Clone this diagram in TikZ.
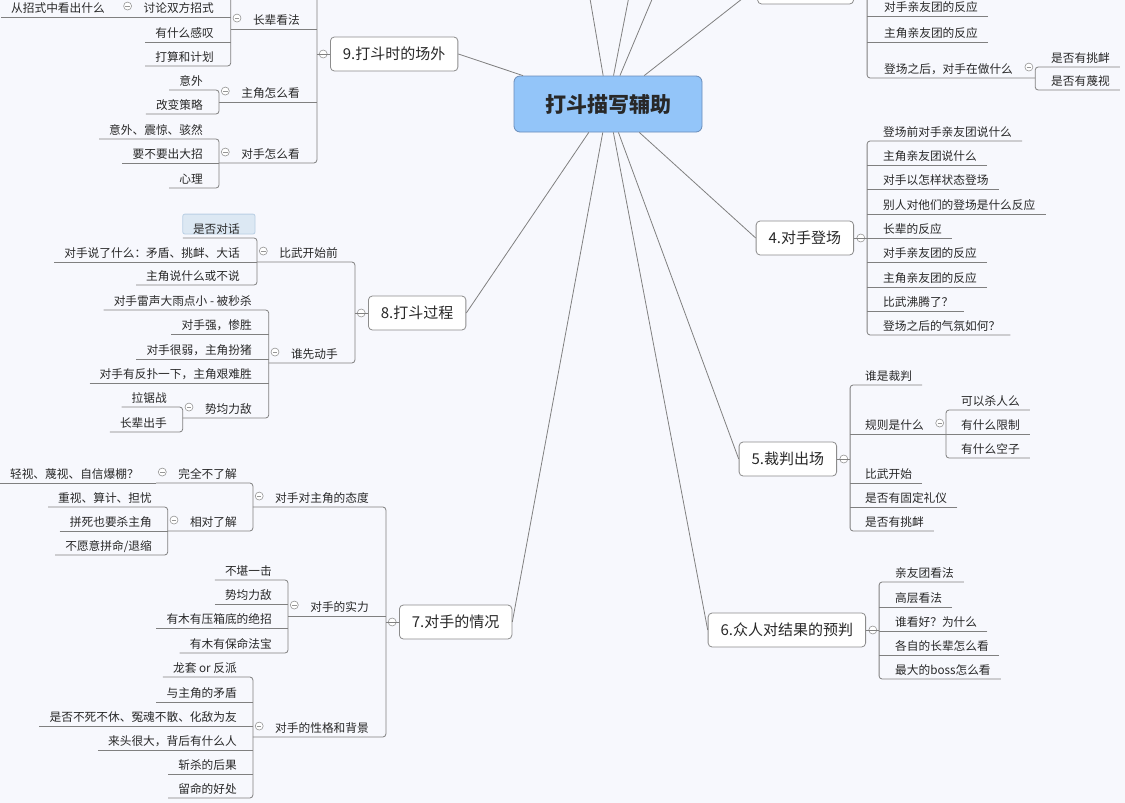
\documentclass[tikz,border=0pt]{standalone}
\usepackage{fontspec}
\setmainfont{Noto Sans CJK SC}
\usetikzlibrary{positioning,backgrounds}

\definecolor{bgc}{RGB}{247,248,253}
\definecolor{linec}{RGB}{128,128,128}
\definecolor{boxc}{RGB}{140,140,140}
\definecolor{txt}{RGB}{40,40,40}
\definecolor{rootc}{RGB}{147,197,249}
\definecolor{rootline}{RGB}{105,140,185}
\definecolor{foldc}{RGB}{150,150,150}
\definecolor{selc}{RGB}{220,232,243}
\definecolor{selline}{RGB}{185,207,228}

\newcommand{\leaffont}{\fontsize{11.7pt}{14pt}\selectfont}
\newcommand{\topicfont}{\fontsize{15pt}{18pt}\selectfont}
\newcommand{\rootfont}{\fontsize{21pt}{24pt}\selectfont\bfseries}

\begin{document}
\begin{tikzpicture}[x=1pt, y=-1pt,
	link/.style={draw=linec, line width=0.8pt, rounded corners=3pt},
	leaf/.style={font=\leaffont, text=txt, inner xsep=10pt, inner ysep=2.5pt, text height=9pt, text depth=1.5pt},
	ll/.style={leaf, anchor=south east},
	lr/.style={leaf, anchor=south west},
	topic/.style={rectangle, draw=boxc, line width=0.8pt, fill=white, rounded corners=4pt, font=\topicfont, text=txt, minimum height=34pt, inner xsep=12.5pt},
	root/.style={rectangle, rounded corners=6pt, draw=rootline, line width=0.8pt, fill=rootc, minimum width=188pt, minimum height=56pt, font=\rootfont, text=txt},
	fold/.style={circle, draw=foldc, fill=white, line width=0.6pt, minimum size=8pt, inner sep=0pt,
		path picture={\draw[foldc, line width=0.6pt] ([xshift=-2.2pt]path picture bounding box.center) -- ([xshift=2.2pt]path picture bounding box.center);}},
	selbox/.style={rounded corners=2pt, fill=selc, draw=selline, line width=0.8pt}
]
\useasboundingbox (0,0) rectangle (1125,803);

% centre and main topics
\node[root] (root) at (608,104) {打斗描写辅助};
\node[topic, anchor=west] (t9) at (330,54) {9.打斗时的场外};
\node[topic, anchor=west] (t8) at (368,313) {8.打斗过程};
\node[topic, anchor=west] (t7) at (399,622) {7.对手的情况};
\node[topic, anchor=east, minimum width=96pt] (t3) at (854,-13) {};
\node[topic, anchor=east] (t4) at (854,238) {4.对手登场};
\node[topic, anchor=east] (t5) at (837,459) {5.裁判出场};
\node[topic, anchor=east] (t6) at (866,630) {6.众人对结果的预判};
\coordinate (t10) at (580,-60);
\coordinate (t1) at (640,-60);
\coordinate (t2) at (677,-60);
\foreach \tp in {t10,t1,t2,t3.west,t4.west,t5.west,t6.west,t7.east,t8.east,t9.east}
	\draw[link] (root) -- (\tp);

% 9
\node[ll] (p9a) at (310,29) {长辈看法};
\node[ll] (p9a1) at (224,17) {讨论双方招式};
\node[ll] (l9a11) at (115,17) {从招式中看出什么};
\node[ll] (l9a2) at (224,42) {有什么感叹};
\node[ll] (l9a3) at (224,66) {打算和计划};
\node[ll] (p9b) at (310,102) {主角怎么看};
\node[ll] (l9b1) at (213,90) {意外};
\node[ll] (l9b2) at (213,114) {改变策略};
\node[ll] (p9c) at (310,163) {对手怎么看};
\node[ll] (l9c1) at (213,139) {意外、震惊、骇然};
\node[ll] (l9c2) at (213,163) {要不要出大招};
\node[ll] (l9c3) at (213,188) {心理};
\coordinate (h9) at (310,-12);
\coordinate (h9a) at (224,-12);

% 8
\node[ll] (p8a) at (348,262) {比武开始前};
\node[ll] (l8a1) at (250,238) {是否对话};
\node[ll] (l8a2) at (250,262) {对手说了什么：矛盾、挑衅、大话};
\node[ll] (l8a3) at (250,285) {主角说什么或不说};
\node[ll] (p8b) at (348,363) {谁先动手};
\node[ll] (l8b1) at (262,310) {对手雷声大雨点小 - 被秒杀};
\node[ll] (l8b2) at (262,334) {对手强，惨胜};
\node[ll] (l8b3) at (262,359) {对手很弱，主角扮猪};
\node[ll] (l8b4) at (262,383) {对手有反扑一下，主角艰难胜};
\node[ll] (p8b5) at (262,418) {势均力敌};
\node[ll] (l8b51) at (177,407) {拉锯战};
\node[ll] (l8b52) at (177,432) {长辈出手};

% 7
\node[ll] (p7a) at (379,507) {对手对主角的态度};
\node[ll] (p7a1) at (247,483) {完全不了解};
\node[ll] (l7a11) at (149,483) {轻视、蔑视、自信爆棚？};
\node[ll] (p7a2) at (247,531) {相对了解};
\node[ll] (l7a21) at (162,507) {重视、算计、担忧};
\node[ll] (l7a22) at (162,531) {拼死也要杀主角};
\node[ll] (l7a23) at (162,555) {不愿意拼命/退缩};
\node[ll] (p7b) at (379,616) {对手的实力};
\node[ll] (l7b1) at (282,580) {不堪一击};
\node[ll] (l7b2) at (282,604) {势均力敌};
\node[ll] (l7b3) at (282,628) {有木有压箱底的绝招};
\node[ll] (l7b4) at (282,653) {有木有保命法宝};
\node[ll] (p7c) at (379,737) {对手的性格和背景};
\node[ll] (l7c1) at (247,677) {龙套 or 反派};
\node[ll] (l7c2) at (247,702) {与主角的矛盾};
\node[ll] (l7c3) at (247,726) {是否不死不休、冤魂不散、化敌为友};
\node[ll] (l7c4) at (247,750) {来头很大，背后有什么人};
\node[ll] (l7c5) at (247,774) {斩杀的后果};
\node[ll] (l7c6) at (247,798) {留命的好处};

% 3
\node[lr] (l31) at (874,16) {对手亲友团的反应};
\node[lr] (l32) at (874,42) {主角亲友团的反应};
\node[lr] (p3c) at (874,78) {登场之后，对手在做什么};
\node[lr] (l3c1) at (1041,67) {是否有挑衅};
\node[lr] (l3c2) at (1041,90) {是否有蔑视};

% 4
\foreach \y/\lbl [count=\i] in {141/登场前对手亲友团说什么, 165/主角亲友团说什么, 189/对手以怎样状态登场, 214/别人对他们的登场是什么反应, 238/长辈的反应, 262/对手亲友团的反应, 287/主角亲友团的反应, 311/比武沸腾了？, 335/登场之后的气氛如何？}
	\node[lr] (l4\i) at (873,\y) {\lbl};

% 5
\node[lr] (l51) at (855,385) {谁是裁判};
\node[lr] (p5b) at (855,434) {规则是什么};
\node[lr] (l5b1) at (951,410) {可以杀人么};
\node[lr] (l5b2) at (951,434) {有什么限制};
\node[lr] (l5b3) at (951,458) {有什么空子};
\node[lr] (l53) at (855,483) {比武开始};
\node[lr] (l54) at (855,507) {是否有固定礼仪};
\node[lr] (l55) at (855,531) {是否有挑衅};

% 6
\foreach \y/\lbl [count=\i] in {582/亲友团看法, 607/高层看法, 631/谁看好？为什么, 655/各自的长辈怎么看, 679/最大的boss怎么看}
	\node[lr] (l6\i) at (885,\y) {\lbl};

% folds
\foreach \tp in {t9,t8,t7} {
	\node[fold, left=2.5pt of \tp.west] (\tp-f) {};
	\coordinate (\tp-b) at ([xshift=-2pt]\tp-f.west);
	\draw[link] (\tp.west) -- (\tp-b);
}
\foreach \tp in {t3,t4,t5,t6} {
	\node[fold, right=2.5pt of \tp.east] (\tp-f) {};
	\coordinate (\tp-b) at ([xshift=2pt]\tp-f.east);
	\draw[link] (\tp.east) -- (\tp-b);
}
\foreach \p in {p9a,p9a1,p9b,p9c,p8a,p8b,p8b5,p7a,p7a1,p7a2,p7b,p7c} {
	\node[fold, left=1.5pt of \p.west, yshift=3pt] (\p-f) {};
	\coordinate (\p-b) at ([xshift=-2pt]\p-f.west |- \p.south);
}
\foreach \p in {p5b,p3c} {
	\node[fold, right=1.5pt of \p.east, yshift=3pt] (\p-f) {};
	\coordinate (\p-b) at ([xshift=2pt]\p-f.east |- \p.south);
}

% links 9
\draw[link] (h9) -| (t9-b) |- (p9c-b);
\draw[link] (p9a-b) -- (p9a-b -| t9-b);
\draw[link] (p9b-b) -- (p9b-b -| t9-b);
\draw[link] (h9a) -| (p9a-b) |- (l9a3.south west);
\draw[link] (p9a1-b) -- (p9a1-b -| p9a-b);
\draw[link] (l9a2.south west) -- (l9a2.south west -| p9a-b);
\draw[link] (l9a11.south west) -- (p9a1-b);
\draw[link] (l9b1.south west) -| (p9b-b) |- (l9b2.south west);
\draw[link] (l9c1.south west) -| (p9c-b) |- (l9c3.south west);
\draw[link] (l9c2.south west) -- (l9c2.south west -| p9c-b);

% links 8
\draw[link] (p8a-b) -| (t8-b) |- (p8b-b);
\draw[link] (l8a1.south west) -| (p8a-b) |- (l8a3.south west);
\draw[link] (l8a2.south west) -- (l8a2.south west -| p8a-b);
\draw[link] (l8b1.south west) -| (p8b-b) |- (p8b5-b);
\foreach \i in {2,3,4}
	\draw[link] (l8b\i.south west) -- (l8b\i.south west -| p8b-b);
\draw[link] (l8b51.south west) -| (p8b5-b) |- (l8b52.south west);

% links 7
\draw[link] (p7a-b) -| (t7-b) |- (p7c-b);
\draw[link] (p7b-b) -- (p7b-b -| t7-b);
\draw[link] (p7a1-b) -| (p7a-b) |- (p7a2-b);
\draw[link] (l7a11.south west) -- (p7a1-b);
\draw[link] (l7a21.south west) -| (p7a2-b) |- (l7a23.south west);
\draw[link] (l7a22.south west) -- (l7a22.south west -| p7a2-b);
\draw[link] (l7b1.south west) -| (p7b-b) |- (l7b4.south west);
\foreach \i in {2,3}
	\draw[link] (l7b\i.south west) -- (l7b\i.south west -| p7b-b);
\draw[link] (l7c1.south west) -| (p7c-b) |- (l7c6.south west);
\foreach \i in {2,...,5}
	\draw[link] (l7c\i.south west) -- (l7c\i.south west -| p7c-b);

% links 3
\draw[link] (t3-b) |- (p3c-b);
\draw[link] (l31.south east) -- (l31.south east -| t3-b);
\draw[link] (l32.south east) -- (l32.south east -| t3-b);
\draw[link] (l3c1.south east) -| (p3c-b) |- (l3c2.south east);

% links 4
\draw[link] (l41.south east) -| (t4-b) |- (l49.south east);
\foreach \i in {2,...,8}
	\draw[link] (l4\i.south east) -- (l4\i.south east -| t4-b);

% links 5
\draw[link] (l51.south east) -| (t5-b) |- (l55.south east);
\draw[link] (p5b-b) -- (p5b-b -| t5-b);
\draw[link] (l53.south east) -- (l53.south east -| t5-b);
\draw[link] (l54.south east) -- (l54.south east -| t5-b);
\draw[link] (l5b1.south east) -| (p5b-b) |- (l5b3.south east);
\draw[link] (l5b2.south east) -- (l5b2.south east -| p5b-b);

% links 6
\draw[link] (l61.south east) -| (t6-b) |- (l65.south east);
\foreach \i in {2,3,4}
	\draw[link] (l6\i.south east) -- (l6\i.south east -| t6-b);

\begin{scope}[on background layer]
	\fill[bgc] (0,0) rectangle (1125,803);
	\draw[selbox] ([yshift=8pt]l8a1.north west) rectangle ([shift={(5pt,4pt)}]l8a1.south east);
\end{scope}
\end{tikzpicture}
\end{document}
